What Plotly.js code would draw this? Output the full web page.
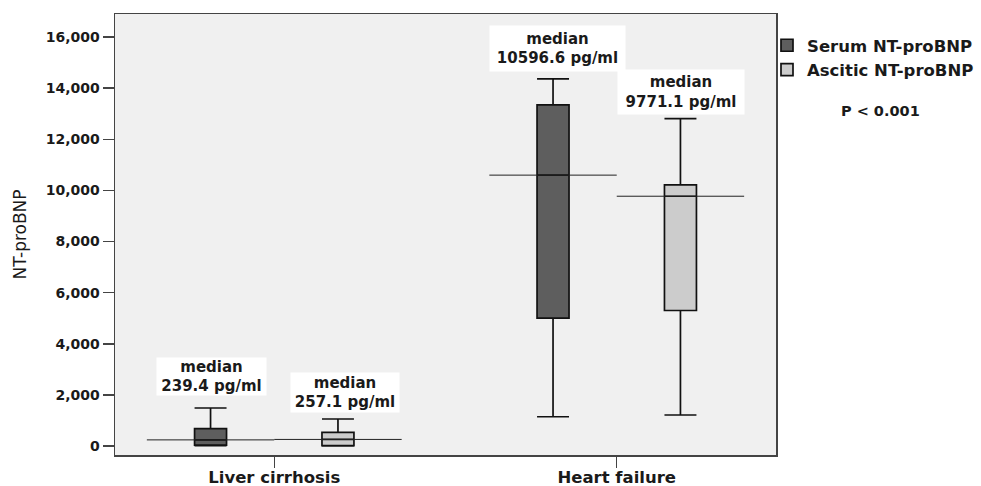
<!DOCTYPE html>
<html>
<head>
<meta charset="utf-8">
<script src="https://cdn.plot.ly/plotly-3.0.1.min.js"></script>
<style>html,body{margin:0;padding:0;background:#fff;}#chart{width:981px;height:486px;}</style>
</head>
<body>
<div id="chart"></div>
<script>
// ---- data ----
const categories = ['Liver cirrhosis', 'Heart failure'];
const seriesNames = ['Serum NT-proBNP', 'Ascitic NT-proBNP'];

const serumLower  = [15, 1145];
const serumQ1     = [35, 5004];
const serumMedian = [239.4, 10596.6];
const serumQ3     = [676, 13343];
const serumUpper  = [1486, 14359];

const asciticLower  = [5, 1212];
const asciticQ1     = [15, 5301];
const asciticMedian = [257.1, 9771.1];
const asciticQ3     = [532, 10215];
const asciticUpper  = [1056, 12807];

const yTickVals = [0, 2000, 4000, 6000, 8000, 10000, 12000, 14000, 16000];
const pLabel = 'P < 0.001';

// ---- style ----
const FONT = 'DejaVu Sans, Verdana, sans-serif';
const TXT = '#1a1a1a';
const serumFill = '#5e5e5e';
const asciticFill = '#cccccc';

const boxLine = {color: '#111', width: 1.7};
const traces = [
  {
    type: 'box', name: seriesNames[0], x: categories,
    q1: serumQ1, median: serumMedian, q3: serumQ3,
    lowerfence: serumLower, upperfence: serumUpper,
    fillcolor: serumFill, line: boxLine, whiskerwidth: 1,
    boxpoints: false, hoverinfo: 'skip'
  },
  {
    type: 'box', name: seriesNames[1], x: categories,
    q1: asciticQ1, median: asciticMedian, q3: asciticQ3,
    lowerfence: asciticLower, upperfence: asciticUpper,
    fillcolor: asciticFill, line: boxLine, whiskerwidth: 1,
    boxpoints: false, hoverinfo: 'skip'
  }
];

// median reference lines, spanning each group slot
const slot = 0.372;
const shapes = [];
categories.forEach((c, i) => {
  shapes.push({type: 'line', xref: 'x', yref: 'y', x0: i - slot, x1: i,
    y0: serumMedian[i], y1: serumMedian[i], line: {color: '#222', width: 1}});
  shapes.push({type: 'line', xref: 'x', yref: 'y', x0: i, x1: i + slot,
    y0: asciticMedian[i], y1: asciticMedian[i], line: {color: '#222', width: 1}});
});

// median labels
const off = 0.186;
const labelCfg = [
  // [series, catIndex, xshift, yshift, width, height]
  ['s', 0, 1, 12, 109, 37],
  ['a', 0, 7, 6, 108, 39],
  ['s', 1, 4, 7, 135, 45],
  ['a', 1, 1, 4, 126, 44]
];
const annotations = labelCfg.map(([s, i, xs, ys, w, h]) => {
  const med = s === 's' ? serumMedian[i] : asciticMedian[i];
  const top = s === 's' ? serumUpper[i] : asciticUpper[i];
  return {
    xref: 'x', yref: 'y', x: i + (s === 's' ? -off : off), y: top,
    xanchor: 'center', yanchor: 'bottom', xshift: xs, yshift: ys,
    text: 'median<br>' + med + ' pg/ml', showarrow: false,
    bgcolor: '#ffffff', borderpad: 0, width: w, height: h,
    font: {family: FONT, size: 15, color: TXT, weight: 'bold'}
  };
});
annotations.push({
  xref: 'paper', yref: 'paper', x: (880 - 115) / 661, y: (455 - 111) / 441,
  xanchor: 'center', yanchor: 'middle', showarrow: false, text: pLabel,
  font: {family: FONT, size: 14.5, color: TXT, weight: 'bold'}
});

const layout = {
  width: 981, height: 486,
  margin: {l: 115, r: 205, t: 14, b: 31, autoexpand: false},
  paper_bgcolor: '#ffffff', plot_bgcolor: '#f0f0f0',
  boxmode: 'group', boxgap: 0.256, boxgroupgap: 0.749,
  showlegend: true,
  legend: {
    x: (767 - 115) / 661, y: (455 - 28) / 441, xanchor: 'left', yanchor: 'top',
    bgcolor: 'rgba(0,0,0,0)', borderwidth: 0,
    font: {family: FONT, size: 16.5, color: TXT, weight: 'bold'},
    tracegroupgap: 0
  },
  xaxis: {
    type: 'category', range: [-0.465, 1.465],
    showline: true, linecolor: '#444', linewidth: 1.5, mirror: true,
    ticks: 'outside', ticklen: 11, tickwidth: 1.5, tickcolor: '#444',
    ticklabelstandoff: -4,
    showgrid: false, zeroline: false, fixedrange: true, automargin: false,
    tickfont: {family: FONT, size: 16.5, color: TXT, weight: 'bold'}
  },
  yaxis: {
    range: [-352, 16900], tickvals: yTickVals, tickformat: ',d',
    showline: true, linecolor: '#444', linewidth: 1.5, mirror: true,
    ticks: 'outside', ticklen: 11, tickwidth: 1.5, tickcolor: '#444',
    showgrid: false, zeroline: false, fixedrange: true, automargin: false,
    tickfont: {family: FONT, size: 14, color: TXT, weight: 'bold'},
    title: {text: 'NT-proBNP', standoff: 14,
      font: {family: FONT, size: 17, color: TXT}}
  },
  shapes: shapes,
  annotations: annotations
};

Plotly.newPlot('chart', traces, layout, {staticPlot: true, displayModeBar: false});
</script>
</body>
</html>
